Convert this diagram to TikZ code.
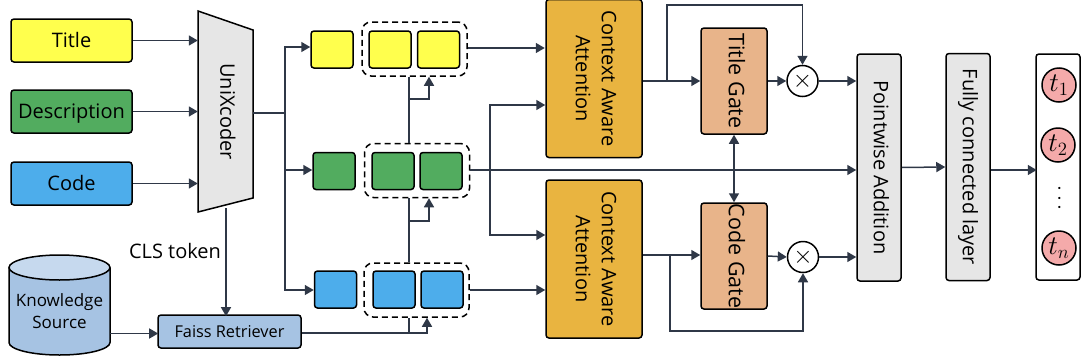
\documentclass[tikz,border=0pt]{standalone}
\usepackage{fontspec}
\setmainfont{Open Sans}
\usetikzlibrary{arrows.meta}
\definecolor{linecol}{HTML}{2F3847}
\definecolor{yellowcol}{HTML}{FFFF4D}
\definecolor{greencol}{HTML}{52AC5F}
\definecolor{bluecol}{HTML}{4DADEB}
\definecolor{attcol}{HTML}{E9B440}
\definecolor{gatecol}{HTML}{E8B48A}
\definecolor{greycol}{HTML}{E6E6E6}
\definecolor{kbcol}{HTML}{A6C3E3}
\definecolor{kbtopcol}{HTML}{C6D9EE}
\definecolor{tokcol}{HTML}{F4AAAA}
\newcommand{\vtext}[1]{\rotatebox{-90}{\begin{tabular}{@{}c@{}}#1\end{tabular}}}
\newcommand{\bigmath}[2]{\scalebox{#1}{$#2$}}
\tikzset{
  block/.style={draw=black,line width=1.5pt,rounded corners=3pt,inner sep=0pt},
  cell/.style={block,minimum width=42pt,minimum height=37pt},
  group/.style={draw=black,line width=1.5pt,dashed,dash pattern=on 6pt off 4pt,rounded corners=9pt,minimum width=105pt,minimum height=54pt,inner sep=0pt},
  inputbox/.style={block,minimum width=121pt,minimum height=43pt,text height=14pt,text depth=0pt},
  attbox/.style={block,fill=attcol,minimum width=96pt,minimum height=158pt},
  gatebox/.style={block,fill=gatecol,minimum width=66pt,minimum height=106pt,font=\fontsize{21.5}{26}\selectfont},
  tallbox/.style={block,fill=greycol,minimum width=44pt,minimum height=227pt},
  mul/.style={circle,draw=black,line width=1.5pt,fill=white,minimum size=31pt,inner sep=0pt},
  token/.style={circle,draw=black,line width=1.5pt,fill=tokcol,minimum size=34pt,inner sep=0pt},
  conn/.style={draw=linecol,line width=1.5pt},
  arr/.style={conn,-{Triangle[length=9pt,width=10pt]}},
  darr/.style={conn,{Triangle[length=9pt,width=10pt]}-{Triangle[length=9pt,width=10pt]}}
}
\begin{document}
\begin{tikzpicture}[x=1pt,y=-1pt,font=\fontsize{20}{26}\selectfont]
\useasboundingbox (0,0) rectangle (1081,362);

\node[inputbox,fill=yellowcol] (title) at (71.5,40.5) {Title};
\node[inputbox,fill=greencol] (desc) at (71.5,111.5) {Description};
\node[inputbox,fill=bluecol] (code) at (71.5,183.5) {Code};

\draw[line width=1.5pt,fill=greycol] (198,11) -- (253,30) -- (253,198) -- (198,212) -- cycle;
\node[minimum width=55pt,minimum height=201pt,inner sep=0pt] (uni) at (225.5,111.5) {\vtext{UniXcoder}};

\draw[line width=1.5pt,fill=kbcol] (9,267.5) -- (9,342.5) arc[start angle=180,end angle=360,x radius=50.5,y radius=-12.5] -- (110,267.5);
\draw[line width=1.5pt,fill=kbtopcol] (59.5,267.5) ellipse[x radius=50.5,y radius=12.5];
\node[minimum width=101pt,minimum height=100pt,inner sep=0pt] (kb) at (59.5,305) {};
\node[font=\fontsize{17}{22}\selectfont,align=center,inner sep=0pt] (kbtext) at (59.5,311) {Knowledge\\Source};
\node[block,fill=kbcol,minimum width=143pt,minimum height=33pt,font=\fontsize{16.3}{18}\selectfont] (faiss) at (229.5,331.5) {Faiss Retriever};
\node[inner sep=0pt] (cls) at (175,251) {CLS token};

\node[cell,fill=yellowcol] (ya) at (332,49.5) {};
\node[cell,fill=yellowcol] (yb) at (390,49.5) {};
\node[cell,fill=yellowcol] (yc) at (438.5,49.5) {};
\node[group] (yg) at (414.5,49) {};

\node[cell,fill=greencol] (ga) at (334,171) {};
\node[cell,fill=greencol] (gb) at (393,171) {};
\node[cell,fill=greencol] (gc) at (441,171) {};
\node[group] (gg) at (417,170.5) {};

\node[cell,fill=bluecol] (ba) at (335.5,289.5) {};
\node[cell,fill=bluecol] (bb) at (394,289.5) {};
\node[cell,fill=bluecol] (bc) at (442,289.5) {};
\node[group] (bg) at (416.5,290) {};

\node[attbox] (atta) at (594,78.5) {\vtext{Context Aware\\Attention}};
\node[attbox] (attb) at (594,259) {\vtext{Context Aware\\Attention}};

\node[gatebox] (gatea) at (734,81) {\vtext{Title Gate}};
\node[gatebox] (gateb) at (734,256) {\vtext{Code Gate}};

\node[mul] (mula) at (802.5,81) {\bigmath{1.2}{\times}};
\node[mul] (mulb) at (803,257) {\bigmath{1.2}{\times}};

\node[tallbox] (add) at (879,167.5) {\vtext{Pointwise Addition\hspace{12pt}}};
\node[tallbox] (fc) at (968,167) {\vtext{Fully connected layer}};
\node[block,fill=white,minimum width=44pt,minimum height=226pt] (out) at (1058,167) {};

\node[token] (ta) at (1059,85) {\bigmath{1.3}{t_1}};
\node[token] (tb) at (1058,145) {\bigmath{1.3}{t_2}};
\node[inner sep=0pt] (tdots) at (1060,198) {\rotatebox{90}{\bigmath{1.05}{\cdots}}};
\node[token] (tc) at (1059,248) {\bigmath{1.3}{t_n}};

\coordinate (trunkt) at (285,47);
\coordinate (trunkg) at (285,170);
\coordinate (trunkb) at (285,290);
\coordinate (trunkm) at (285,113);
\coordinate (sidea) at (490,105);
\coordinate (sideb) at (490,235);
\coordinate (sidem) at (490,170);
\coordinate (upya) at (409,99);
\coordinate (upyb) at (429,99);
\coordinate (upga) at (409,221);
\coordinate (upgb) at (429,221);
\coordinate (upba) at (409,333);
\coordinate (upbb) at (427,333);
\coordinate (loopa) at (667,81);
\coordinate (loopb) at (670,255);

\draw[arr] (title.east) -- (title.east -| uni.west);
\draw[arr] (desc.east) -- (desc.east -| uni.west);
\draw[arr] (code.east) -- (code.east -| uni.west);

\draw[conn] (trunkm -| uni.east) -- (trunkm);
\draw[arr] (trunkm) -- (trunkt) -- (ya.west |- trunkt);
\draw[arr] (trunkt) -- (trunkb) -- (ba.west |- trunkb);
\draw[arr] (trunkg) -- (ga.west |- trunkg);

\draw[arr] (uni.south -| faiss) ++(-3.5,-4) -- ++(0,108);
\draw[arr] (kb.east |- faiss.west) ++(0,2) -- ++(48,0);

\draw[conn] (upya |- gg.north) -- (upya |- yg.south);
\draw[arr] (upya) -- (upyb) -- (upyb |- yg.south);
\draw[conn] (upga |- bg.north) -- (upga |- gg.south);
\draw[arr] (upga) -- (upgb) -- (upgb |- gg.south);
\draw[conn] (upba) -- (upba |- bg.south);
\draw[arr] (faiss.east |- upba) -- (upbb) -- (upbb |- bg.south);

\draw[arr] (yg.east |- atta.west) ++(0,-30.5) -- ++(77,0);
\draw[arr] (bg.east) -- (bg.east -| attb.west);
\draw[arr] (sidem -| gg.east) -- (sidem -| add.west);
\draw[arr] (sidem) -- (sidea) -- (sidea -| atta.west);
\draw[arr] (sidem) -- (sideb) -- (sideb -| attb.west);

\draw[arr] (atta.east |- gatea.west) -- (gatea.west);
\draw[arr] (attb.east |- loopb) -- (gateb.west |- loopb);
\draw[arr] (loopa) -- (667,5) -- (802.5,5) -- (mula.north);
\draw[arr] (loopb) -- (670,331) -- (803,331) -- (mulb.south);
\draw[arr] (gatea.east) -- (mula.west);
\draw[arr] (gateb.east) -- (mulb.west);
\draw[arr] (mula.east) -- (mula.east -| add.west);
\draw[arr] (mulb.east) -- (mulb.east -| add.west);
\draw[darr] (gatea.south) -- (gateb.north);

\draw[arr] (add.east) -- (fc.west);
\draw[arr] (fc.east) ++(0,3) -- ++(46,0);
\end{tikzpicture}
\end{document}
